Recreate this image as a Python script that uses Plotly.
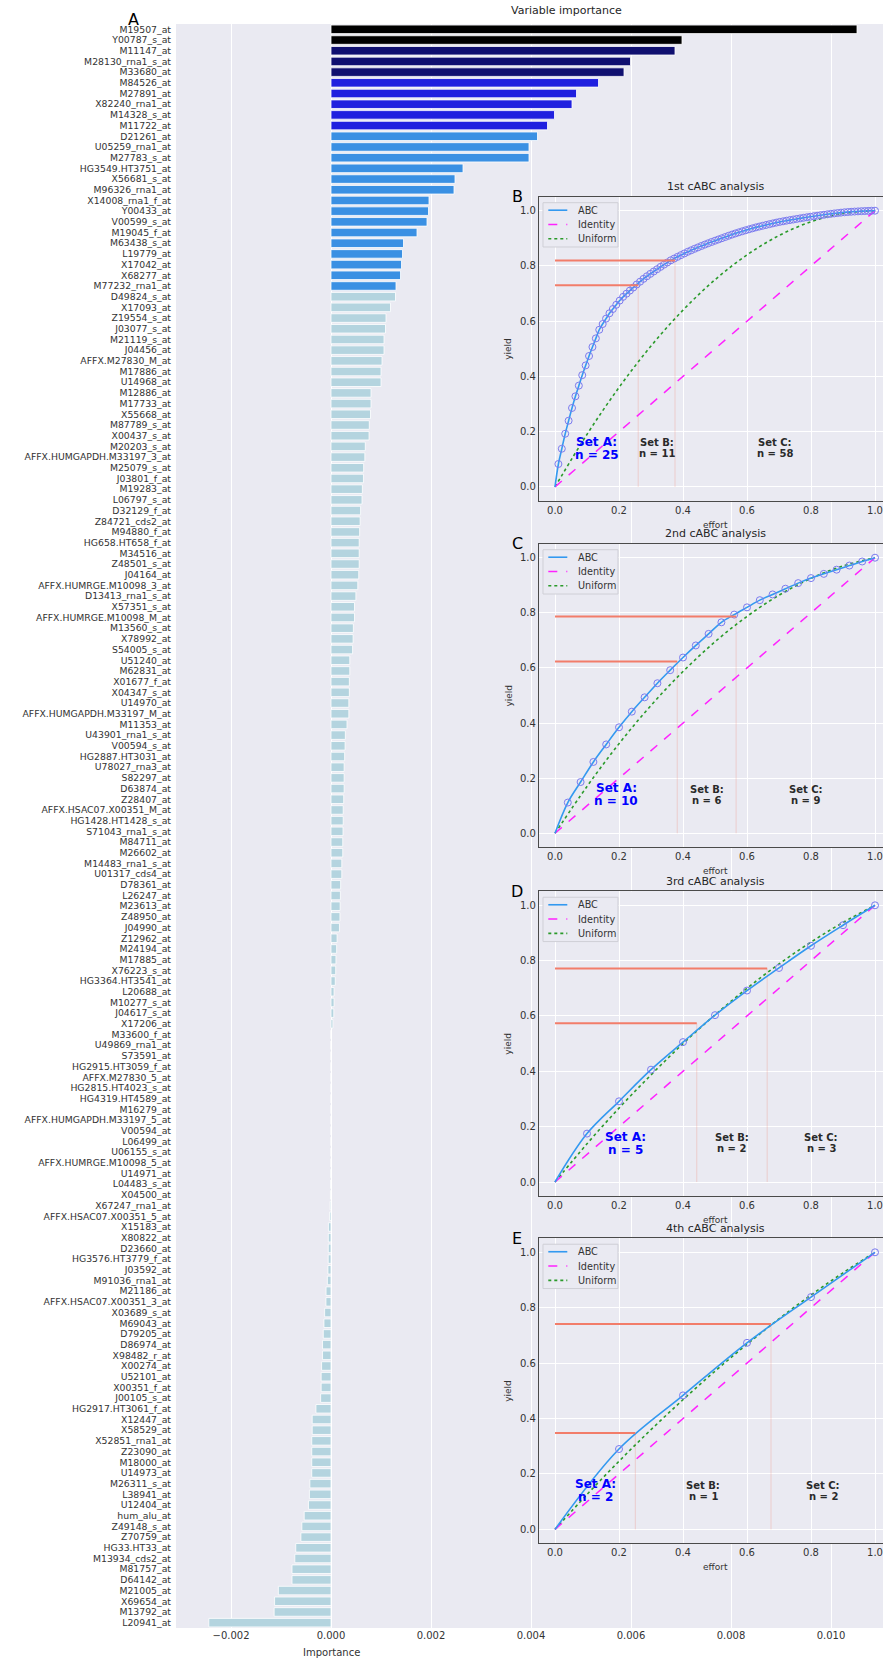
import plotly.graph_objects as go

W, H = 883, 1659

genes = [
    "M19507_at", "Y00787_s_at", "M11147_at", "M28130_rna1_s_at", "M33680_at",
    "M84526_at", "M27891_at", "X82240_rna1_at", "M14328_s_at", "M11722_at",
    "D21261_at", "U05259_rna1_at", "M27783_s_at", "HG3549.HT3751_at", "X56681_s_at",
    "M96326_rna1_at", "X14008_rna1_f_at", "Y00433_at", "V00599_s_at", "M19045_f_at",
    "M63438_s_at", "L19779_at", "X17042_at", "X68277_at", "M77232_rna1_at",
    "D49824_s_at", "X17093_at", "Z19554_s_at", "J03077_s_at", "M21119_s_at",
    "J04456_at", "AFFX.M27830_M_at", "M17886_at", "U14968_at", "M12886_at",
    "M17733_at", "X55668_at", "M87789_s_at", "X00437_s_at", "M20203_s_at",
    "AFFX.HUMGAPDH.M33197_3_at", "M25079_s_at", "J03801_f_at", "M19283_at", "L06797_s_at",
    "D32129_f_at", "Z84721_cds2_at", "M94880_f_at", "HG658.HT658_f_at", "M34516_at",
    "Z48501_s_at", "J04164_at", "AFFX.HUMRGE.M10098_3_at", "D13413_rna1_s_at", "X57351_s_at",
    "AFFX.HUMRGE.M10098_M_at", "M13560_s_at", "X78992_at", "S54005_s_at", "U51240_at",
    "M62831_at", "X01677_f_at", "X04347_s_at", "U14970_at", "AFFX.HUMGAPDH.M33197_M_at",
    "M11353_at", "U43901_rna1_s_at", "V00594_s_at", "HG2887.HT3031_at", "U78027_rna3_at",
    "S82297_at", "D63874_at", "Z28407_at", "AFFX.HSAC07.X00351_M_at", "HG1428.HT1428_s_at",
    "S71043_rna1_s_at", "M84711_at", "M26602_at", "M14483_rna1_s_at", "U01317_cds4_at",
    "D78361_at", "L26247_at", "M23613_at", "Z48950_at", "J04990_at",
    "Z12962_at", "M24194_at", "M17885_at", "X76223_s_at", "HG3364.HT3541_at",
    "L20688_at", "M10277_s_at", "J04617_s_at", "X17206_at", "M33600_f_at",
    "U49869_rna1_at", "S73591_at", "HG2915.HT3059_f_at", "AFFX.M27830_5_at", "HG2815.HT4023_s_at",
    "HG4319.HT4589_at", "M16279_at", "AFFX.HUMGAPDH.M33197_5_at", "V00594_at", "L06499_at",
    "U06155_s_at", "AFFX.HUMRGE.M10098_5_at", "U14971_at", "L04483_s_at", "X04500_at",
    "X67247_rna1_at", "AFFX.HSAC07.X00351_5_at", "X15183_at", "X80822_at", "D23660_at",
    "HG3576.HT3779_f_at", "J03592_at", "M91036_rna1_at", "M21186_at", "AFFX.HSAC07.X00351_3_at",
    "X03689_s_at", "M69043_at", "D79205_at", "D86974_at", "X98482_r_at",
    "X00274_at", "U52101_at", "X00351_f_at", "J00105_s_at", "HG2917.HT3061_f_at",
    "X12447_at", "X58529_at", "X52851_rna1_at", "Z23090_at", "M18000_at",
    "U14973_at", "M26311_s_at", "L38941_at", "U12404_at", "hum_alu_at",
    "Z49148_s_at", "Z70759_at", "HG33.HT33_at", "M13934_cds2_at", "M81757_at",
    "D64142_at", "M21005_at", "X69654_at", "M13792_at", "L20941_at",
]

# permutation importance (x 1e-3), same order as genes
importance_e3 = [
    10.52, 7.02, 6.88, 5.99, 5.86,
    5.35, 4.91, 4.82, 4.47, 4.33,
    4.13, 3.96, 3.96, 2.64, 2.48,
    2.46, 1.96, 1.95, 1.92, 1.72,
    1.45, 1.43, 1.41, 1.39, 1.30,
    1.29, 1.19, 1.10, 1.09, 1.06,
    1.06, 1.02, 1.00, 1.00, 0.80,
    0.80, 0.79, 0.766, 0.761, 0.686,
    0.677, 0.653, 0.649, 0.627, 0.620,
    0.592, 0.583, 0.573, 0.564, 0.564,
    0.564, 0.555, 0.536, 0.498, 0.470,
    0.470, 0.447, 0.442, 0.432, 0.376,
    0.376, 0.367, 0.367, 0.357, 0.357,
    0.320, 0.287, 0.282, 0.273, 0.263,
    0.263, 0.263, 0.254, 0.244, 0.244,
    0.240, 0.235, 0.235, 0.216, 0.216,
    0.193, 0.188, 0.183, 0.179, 0.169,
    0.122, 0.113, 0.099, 0.094, 0.085,
    0.061, 0.061, 0.056, 0.038, 0.0,
    0.0, 0.0, 0.0, 0.0, 0.0,
    0.0, 0.0, 0.0, 0.0, 0.0,
    0.0, 0.0, -0.005, -0.008, -0.011,
    -0.017, -0.028, -0.052, -0.054, -0.055,
    -0.056, -0.061, -0.073, -0.099, -0.101,
    -0.127, -0.141, -0.155, -0.169, -0.169,
    -0.188, -0.197, -0.197, -0.207, -0.301,
    -0.376, -0.376, -0.385, -0.385, -0.385,
    -0.385, -0.423, -0.432, -0.451, -0.536,
    -0.583, -0.602, -0.705, -0.724, -0.780,
    -0.780, -1.053, -1.128, -1.137, -2.444,
]
importance = [v * 1e-3 for v in importance_e3]

x_ticks = [-0.002, 0.0, 0.002, 0.004, 0.006, 0.008, 0.010]

# set sizes (A, B, C) of the four successive cABC analyses
set_sizes = [[25, 11, 58], [10, 6, 9], [5, 2, 3], [2, 1, 2]]
panel_titles = ["1st cABC analysis", "2nd cABC analysis", "3rd cABC analysis", "4th cABC analysis"]
panel_letters = ["B", "C", "D", "E"]
legend_names = ["ABC", "Identity", "Uniform"]

# A|B and B|C limits on the ABC curve
limit_effort = [[0.26, 0.375], [0.382, 0.566], [0.443, 0.663], [0.251, 0.675]]
limit_yield = [[0.73, 0.82], [0.623, 0.787], [0.574, 0.772], [0.348, 0.741]]

# ABC curve of a uniform distribution over each analysed range
uniform_effort = [0.0, 0.1, 0.2, 0.3, 0.4, 0.5, 0.6, 0.7, 0.8, 0.9, 1.0]
uniform_yield = [
    [0.0, 0.19, 0.36, 0.51, 0.64, 0.75, 0.84, 0.91, 0.96, 0.99, 1.0],
    [0.0, 0.17, 0.325, 0.464, 0.587, 0.695, 0.787, 0.864, 0.925, 0.97, 1.0],
    [0.0, 0.138, 0.267, 0.387, 0.50, 0.604, 0.70, 0.788, 0.867, 0.938, 1.0],
    [0.0, 0.126, 0.246, 0.36, 0.468, 0.571, 0.668, 0.76, 0.846, 0.926, 1.0],
]

FONT = "DejaVu Sans"
BG = "#eaeaf2"
TXT = "#333333"
ABC_COL, ID_COL, UNI_COL = "#3399f0", "#ff22ff", "#2a9a2a"


def px_x(px):
    return px / W


def px_y(py):
    return 1 - py / H


# bar colours: nested cABC "A" sets of the successive analyses
def bar_colour(rank):
    if rank < set_sizes[3][0]:
        return "#000000"
    if rank < set_sizes[2][0]:
        return "#101070"
    if rank < set_sizes[1][0]:
        return "#2020df"
    if rank < set_sizes[0][0]:
        return "#3a90e3"
    return "#b4d4df"


fig = go.Figure()
fig.add_trace(go.Bar(
    x=importance, y=genes, orientation="h",
    marker=dict(color=[bar_colour(i) for i in range(len(genes))],
                line=dict(color="white", width=0.8)),
    width=0.8, showlegend=False, xaxis="x", yaxis="y",
))

# main axes geometry (pixels)
main_left, main_top, main_bottom = 176, 24, 1628
zero_px, px_per_unit = 331, 50000.0
layout = dict(
    width=W, height=H,
    margin=dict(l=0, r=0, t=0, b=0),
    paper_bgcolor="white", plot_bgcolor=BG,
    font=dict(family=FONT, color=TXT),
    showlegend=False,
    xaxis=dict(
        domain=[px_x(main_left), 1],
        range=[(main_left - zero_px) / px_per_unit, (W - zero_px) / px_per_unit],
        tickmode="array", tickvals=x_ticks, tickformat=".3f",
        showgrid=True, gridcolor="white", gridwidth=1, zeroline=False,
        showline=False, ticks="", tickfont=dict(size=10, color=TXT),
        anchor="y",
    ),
    yaxis=dict(
        domain=[px_y(main_bottom), px_y(main_top)],
        type="category", categoryorder="array", categoryarray=genes,
        range=[len(genes) - 0.5, -0.5],
        tickmode="array", tickvals=genes, ticktext=genes,
        showgrid=False, zeroline=False, showline=False, ticks="",
        tickfont=dict(size=9.3, color=TXT), ticklabelstandoff=4,
        anchor="x",
    ),
)

annotations = [
    dict(text="Variable importance", x=px_x(566), y=px_y(11), xref="paper", yref="paper",
         showarrow=False, font=dict(size=11, color="#262626"), xanchor="center", yanchor="middle"),
    dict(text="Importance", x=px_x(331), y=px_y(1652), xref="paper", yref="paper",
         showarrow=False, font=dict(size=10, color=TXT), xanchor="center", yanchor="middle"),
    dict(text="A", x=px_x(133), y=px_y(20), xref="paper", yref="paper",
         showarrow=False, font=dict(size=16, color="black"), xanchor="center", yanchor="middle"),
]
shapes = []

# inset geometry: pixel rows of yield 0 and yield 1, and the effort scale
inset_left, eff0_px, eff_px = 539, 555, 320.0
yield_px = [(486.9, 210.7), (833.3, 557.7), (1182.0, 905.3), (1529.4, 1252.3)]
x_hi = -0.05 + (W - inset_left) / eff_px
center_px = eff0_px + 0.5 * eff_px

for k in range(4):
    idx = k + 2
    xa, ya = f"x{idx}", f"y{idx}"
    y0p, y1p = yield_px[k]
    span = y0p - y1p
    bottom_px, top_px = y0p + 0.05 * span, y1p - 0.05 * span

    n = sum(set_sizes[k])
    ranked = sorted(importance, reverse=True)[:n]
    total = sum(ranked)
    cum = [0.0]
    for v in ranked:
        cum.append(cum[-1] + v)
    effort = [i / n for i in range(n + 1)]
    yld = [c / total for c in cum]

    # faint vertical limits
    for e, yv in zip(limit_effort[k], limit_yield[k]):
        fig.add_trace(go.Scatter(x=[e, e], y=[0, yv], mode="lines", xaxis=xa, yaxis=ya,
                                 line=dict(color="rgba(240,128,110,0.35)", width=0.8),
                                 hoverinfo="skip"))
    fig.add_trace(go.Scatter(x=uniform_effort, y=uniform_yield[k], mode="lines", name="Uniform",
                             xaxis=xa, yaxis=ya,
                             line=dict(color=UNI_COL, width=1.6, dash="dot", shape="spline")))
    fig.add_trace(go.Scatter(x=[0, 1], y=[0, 1], mode="lines", name="Identity", xaxis=xa, yaxis=ya,
                             line=dict(color=ID_COL, width=1.5, dash="dash")))
    fig.add_trace(go.Scatter(x=effort, y=yld, mode="lines", name="ABC", xaxis=xa, yaxis=ya,
                             line=dict(color=ABC_COL, width=1.6, shape="spline")))
    fig.add_trace(go.Scatter(x=effort[1:], y=yld[1:], mode="markers", xaxis=xa, yaxis=ya,
                             marker=dict(symbol="circle-open", size=7, color="#7b7bef",
                                         line=dict(width=1))))
    for e, yv in zip(limit_effort[k], limit_yield[k]):
        fig.add_trace(go.Scatter(x=[0, e], y=[yv, yv], mode="lines", xaxis=xa, yaxis=ya,
                                 line=dict(color="#f27d6a", width=2), hoverinfo="skip"))

    axis_common = dict(showgrid=True, gridcolor="white", gridwidth=1, zeroline=False,
                       showline=True, mirror=True, linecolor="#4a4a4a", linewidth=1.3,
                       ticks="", tickfont=dict(size=10, color=TXT), dtick=0.2, tick0=0,
                       tickformat=".1f")
    layout[f"xaxis{idx}"] = dict(axis_common, domain=[px_x(inset_left), 1],
                                 range=[-0.05, x_hi], anchor=ya)
    layout[f"yaxis{idx}"] = dict(axis_common, domain=[px_y(bottom_px), px_y(top_px)],
                                 range=[-0.05, 1.05], anchor=xa)

    # legend box
    box_top = top_px + 5.8
    shapes.append(dict(type="rect", xref="paper", yref="paper", layer="above",
                       x0=px_x(543), x1=px_x(618), y0=px_y(box_top + 44.3), y1=px_y(box_top),
                       fillcolor=BG, line=dict(color="#cfcfd6", width=1)))
    for j, (name, col, dash) in enumerate(zip(legend_names, [ABC_COL, ID_COL, UNI_COL],
                                               ["solid", "dash", "dot"])):
        ey = box_top + 7.5 + 14.3 * j
        shapes.append(dict(type="line", xref="paper", yref="paper", layer="above",
                           x0=px_x(548.3), x1=px_x(567.3), y0=px_y(ey), y1=px_y(ey),
                           line=dict(color=col, width=1.6, dash=dash)))
        annotations.append(dict(text=name, x=px_x(575.7), y=px_y(ey), xref="paper", yref="paper",
                                showarrow=False, font=dict(size=9.7, color=TXT),
                                xanchor="left", yanchor="middle"))

    # set labels
    e1, e2 = limit_effort[k]
    mids = [e1 / 2, (e1 + e2) / 2, (e2 + 1) / 2]
    for j, (name, m) in enumerate(zip(["A", "B", "C"], mids)):
        if j == 0:
            fnt, gap = dict(size=12, color="#0000ff"), 6.7
        else:
            fnt, gap = dict(size=10, color="#2a2a2a"), 5.4
        annotations.append(dict(text=f"<b>Set {name}:</b>", x=m, y=0.14, xref=xa, yref=ya,
                                showarrow=False, font=fnt, yshift=gap))
        annotations.append(dict(text=f"<b>n = {set_sizes[k][j]}</b>", x=m, y=0.14, xref=xa, yref=ya,
                                showarrow=False, font=fnt, yshift=-gap))

    annotations.append(dict(text=panel_titles[k], x=px_x(center_px), y=px_y(top_px - 10),
                            xref="paper", yref="paper", showarrow=False,
                            font=dict(size=11, color="#262626"), xanchor="center", yanchor="middle"))
    annotations.append(dict(text="effort", x=px_x(center_px), y=px_y(bottom_px + 24),
                            xref="paper", yref="paper", showarrow=False,
                            font=dict(size=9, color=TXT), xanchor="center", yanchor="middle"))
    annotations.append(dict(text="yield", x=px_x(508), y=px_y((top_px + bottom_px) / 2),
                            xref="paper", yref="paper", showarrow=False, textangle=-90,
                            font=dict(size=9, color=TXT), xanchor="center", yanchor="middle"))
    annotations.append(dict(text=panel_letters[k], x=px_x(517), y=px_y(top_px),
                            xref="paper", yref="paper", showarrow=False,
                            font=dict(size=16, color="black"), xanchor="center", yanchor="middle"))

layout["annotations"] = annotations
layout["shapes"] = shapes
fig.update_layout(**layout)
fig.write_html("out.html")
